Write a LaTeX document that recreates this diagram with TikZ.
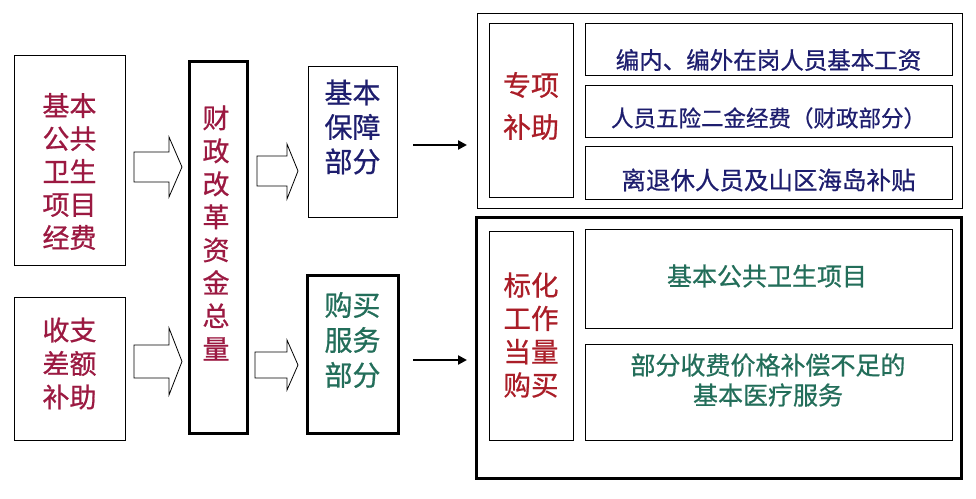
\documentclass[tikz,border=0pt]{standalone}
\usepackage{fontspec}
\newfontfamily\cjk[FakeBold=0.7]{Noto Sans CJK SC}
\usetikzlibrary{arrows.meta,positioning}
\definecolor{crim}{RGB}{155,25,65}
\definecolor{dred}{RGB}{170,30,40}
\definecolor{navy}{RGB}{30,30,110}
\definecolor{tealg}{RGB}{35,110,90}
\tikzset{
  thinbox/.style={draw=black,line width=1pt,inner sep=0pt,outer sep=0pt,anchor=north west},
  thickbox/.style={draw=black,line width=3pt,inner sep=0pt,outer sep=0pt,anchor=north west},
  txt/.style={inner sep=0pt,align=center},
  blockarr/.style={draw=black,line width=0.8pt,fill=white},
  linearrow/.style={line width=2.6pt,-{Triangle[length=9pt,width=9pt]}},
}
\newcommand{\bsz}[2]{\fontsize{#1}{#2}\selectfont}
\begin{document}
\begin{tikzpicture}[x=1pt,y=-1pt]
\useasboundingbox (0,0) rectangle (976,498);
% left boxes
\node[thinbox,minimum width=111pt,minimum height=210pt] (A) at (14,55) {};
\node[txt,text=crim,font=\cjk\bsz{27}{33}] (At) at (69.5,171.5) {基本\\公共\\卫生\\项目\\经费};
\node[thinbox,minimum width=111pt,minimum height=143pt] (B) at (14,297) {};
\node[txt,text=crim,font=\cjk\bsz{27}{33.5}] (Bt) at (69.5,363.5) {收支\\差额\\补助};
% central box
\node[thickbox,minimum width=58pt,minimum height=372pt] (C) at (189,61) {};
\node[txt,text=crim,font=\cjk\bsz{27}{33}] (Ct) at (216,233) {财\\政\\改\\革\\资\\金\\总\\量};
% middle boxes
\node[thinbox,minimum width=89pt,minimum height=151pt] (D) at (308,66) {};
\node[txt,text=navy,font=\cjk\bsz{28}{34.5}] (Dt) at (352.5,127) {基本\\保障\\部分};
\node[thickbox,minimum width=91pt,minimum height=158pt] (E) at (307,275) {};
\node[txt,text=tealg,font=\cjk\bsz{28}{35}] (Et) at (352.5,340) {购买\\服务\\部分};
% block arrows
\draw[blockarr] (134,152) -- (169,152) -- (169,137) -- (182,167) -- (169,197) -- (169,182) -- (134,182) -- cycle;
\draw[blockarr] (134,345) -- (169,345) -- (169,328) -- (182,361.5) -- (169,395) -- (169,378) -- (134,378) -- cycle;
\draw[blockarr] (257,156) -- (287,156) -- (287,144) -- (298,171) -- (287,199) -- (287,186) -- (257,186) -- cycle;
\draw[blockarr] (255,352) -- (287,352) -- (287,340) -- (298,365) -- (287,390) -- (287,378) -- (255,378) -- cycle;
% top group
\node[thinbox,minimum width=485pt,minimum height=195pt] (G1) at (477,13) {};
\node[thinbox,minimum width=84pt,minimum height=174pt] (S1) at (489,23) {};
\node[txt,text=dred,font=\cjk\bsz{28}{42}] (S1t) at (531,106) {专项\\补助};
\node[thinbox,minimum width=367pt,minimum height=52pt] (R1) at (585,23) {};
\node[txt,text=navy,font=\cjk\bsz{23.5}{28}] (R1t) at (768.5,60) {编内、编外在岗人员基本工资};
\node[thinbox,minimum width=367pt,minimum height=52pt] (R2) at (585,85) {};
\node[txt,text=navy,font=\cjk\bsz{22.5}{28}] (R2t) at (768.5,118) {人员五险二金经费（财政部分）};
\node[thinbox,minimum width=367pt,minimum height=53pt] (R3) at (585,146) {};
\node[txt,text=navy,font=\cjk\bsz{24.5}{28}] (R3t) at (768.5,180) {离退休人员及山区海岛补贴};
% bottom group
\node[thickbox,minimum width=485pt,minimum height=261pt] (G2) at (476,217) {};
\node[thinbox,minimum width=84pt,minimum height=209pt] (S2) at (489,231) {};
\node[txt,text=dred,font=\cjk\bsz{27.5}{33.3}] (S2t) at (531,335) {标化\\工作\\当量\\购买};
\node[thinbox,minimum width=367pt,minimum height=99pt] (Q1) at (585,229) {};
\node[txt,text=tealg,font=\cjk\bsz{25}{30}] (Q1t) at (767,276) {基本公共卫生项目};
\node[thinbox,minimum width=367pt,minimum height=96pt] (Q2) at (585,344) {};
\node[txt,text=tealg,font=\cjk\bsz{25}{30}] (Q2t) at (768,380) {部分收费价格补偿不足的\\基本医疗服务};
% line arrows
\draw[linearrow] ([xshift=16pt,yshift=-3.5pt]D.east) -- ([xshift=-10pt,yshift=-3.5pt]D.east -| G1.west);
\draw[linearrow] ([xshift=15pt,yshift=-6pt]E.east) -- ([xshift=-9pt,yshift=-6pt]E.east -| G2.west);
\end{tikzpicture}
\end{document}
